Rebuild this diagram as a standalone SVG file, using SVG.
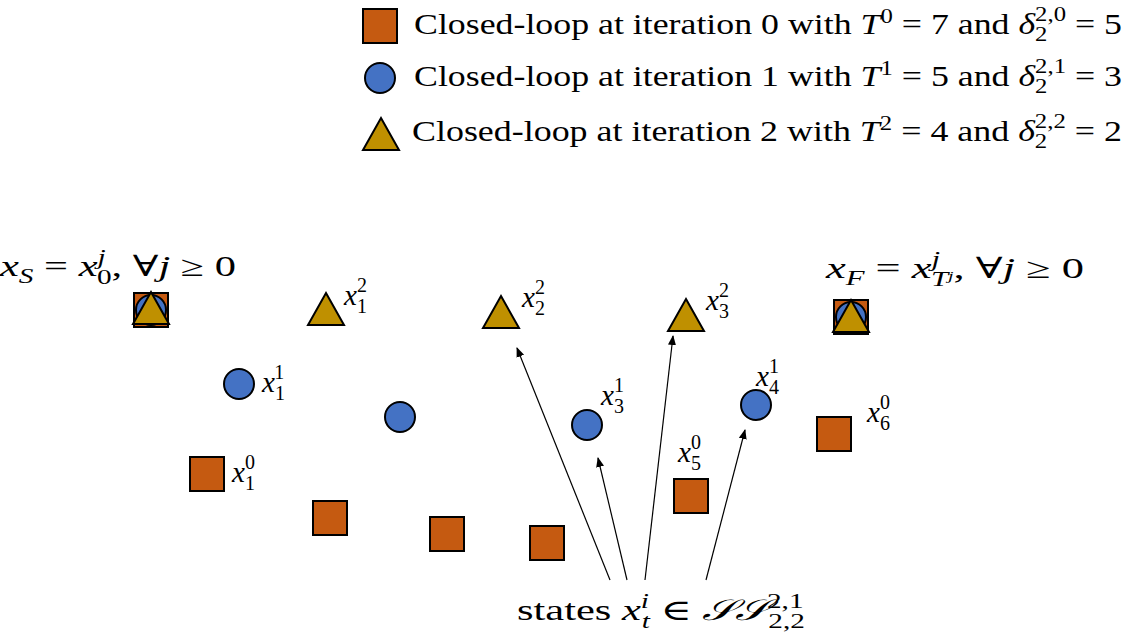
<svg xmlns="http://www.w3.org/2000/svg" width="1125" height="642" viewBox="0 0 1125 642">
<style>
text{font-family:"Liberation Serif","DejaVu Serif",serif;font-size:29px;fill:#000}
.i{font-style:italic}
.s{font-size:20px}
.sq{fill:#C55A11;stroke:#000;stroke-width:2}
.ci{fill:#4472C4;stroke:#000;stroke-width:2}
.tr{fill:#BF9000;stroke:#000;stroke-width:2}
.ar{stroke:#000;stroke-width:1.2;fill:none;marker-end:url(#h)}
</style>
<defs>
<marker id="h" markerWidth="10" markerHeight="10" refX="9" refY="5" orient="auto" markerUnits="userSpaceOnUse"><path d="M0,1 L10,5 L0,9 Z" fill="#000"/></marker>
<rect id="S" class="sq" x="-17" y="-17" width="34" height="34"/>
<circle id="C" class="ci" r="15"/>
<polygon id="T" class="tr" points="0,-18 18,14 -18,14"/>
</defs>
<g id="legend">
<use href="#S" x="380" y="26"/><text x="414" y="34" textLength="708" lengthAdjust="spacingAndGlyphs">Closed-loop at iteration 0 with <tspan class="i">T</tspan><tspan class="s" dy="-11">0</tspan><tspan dy="11"> = 7 and </tspan><tspan class="i">δ</tspan><tspan class="s" dy="7">2</tspan><tspan class="s" dx="-10" dy="-20">2,0</tspan><tspan dy="13"> = 5</tspan></text>
<use href="#C" x="380" y="78"/><text x="414" y="86" textLength="708" lengthAdjust="spacingAndGlyphs">Closed-loop at iteration 1 with <tspan class="i">T</tspan><tspan class="s" dy="-11">1</tspan><tspan dy="11"> = 5 and </tspan><tspan class="i">δ</tspan><tspan class="s" dy="7">2</tspan><tspan class="s" dx="-10" dy="-20">2,1</tspan><tspan dy="13"> = 3</tspan></text>
<use href="#T" x="381" y="136"/><text x="412" y="141" textLength="710" lengthAdjust="spacingAndGlyphs">Closed-loop at iteration 2 with <tspan class="i">T</tspan><tspan class="s" dy="-11">2</tspan><tspan dy="11"> = 4 and </tspan><tspan class="i">δ</tspan><tspan class="s" dy="7">2</tspan><tspan class="s" dx="-10" dy="-20">2,2</tspan><tspan dy="13"> = 2</tspan></text>
</g>
<g id="iter0">
<use href="#S" x="151" y="310"/><use href="#S" x="207" y="474"/><use href="#S" x="330" y="518"/><use href="#S" x="447" y="534"/><use href="#S" x="547" y="543"/><use href="#S" x="691" y="496"/><use href="#S" x="834" y="434"/><use href="#S" x="851" y="317"/>
</g>
<g id="iter1">
<use href="#C" x="151" y="310"/><use href="#C" x="239" y="384"/><use href="#C" x="400" y="417"/><use href="#C" x="587" y="425"/><use href="#C" x="756" y="405"/><use href="#C" x="851" y="317"/>
</g>
<g id="iter2">
<use href="#T" x="151" y="310"/><use href="#T" x="326" y="311"/><use href="#T" x="501" y="314"/><use href="#T" x="686" y="317"/><use href="#T" x="851" y="318"/>
</g>
<g id="connectors">
<line class="ar" x1="610" y1="580" x2="517" y2="348"/>
<line class="ar" x1="627" y1="580" x2="598" y2="458"/>
<line class="ar" x1="645" y1="580" x2="673" y2="336"/>
<line class="ar" x1="706" y1="580" x2="745" y2="430"/>
</g>
<g id="labels">
<text x="0" y="276" textLength="236" lengthAdjust="spacingAndGlyphs"><tspan class="i">x</tspan><tspan class="s i" dy="7">S</tspan><tspan dy="-7"> = </tspan><tspan class="i">x</tspan><tspan class="s i" dy="-12">j</tspan><tspan class="s" dx="-6" dy="20">0</tspan><tspan dy="-8">, ∀</tspan><tspan class="i">j</tspan> ≥ 0</text>
<text x="826" y="278" textLength="258" lengthAdjust="spacingAndGlyphs"><tspan class="i">x</tspan><tspan class="s i" dy="7">F</tspan><tspan dy="-7"> = </tspan><tspan class="i">x</tspan><tspan class="s i" dy="-12">j</tspan><tspan class="s i" dx="-6" dy="20">T</tspan><tspan class="i" style="font-size:13px" dy="-6">j</tspan><tspan dy="-2">, ∀</tspan><tspan class="i">j</tspan> ≥ 0</text>
<text x="344" y="305"><tspan class="i">x</tspan><tspan class="s" dy="8">1</tspan><tspan class="s" dx="-10" dy="-21">2</tspan></text>
<text x="522" y="307"><tspan class="i">x</tspan><tspan class="s" dy="8">2</tspan><tspan class="s" dx="-10" dy="-21">2</tspan></text>
<text x="706" y="310"><tspan class="i">x</tspan><tspan class="s" dy="8">3</tspan><tspan class="s" dx="-10" dy="-21">2</tspan></text>
<text x="262" y="392"><tspan class="i">x</tspan><tspan class="s" dy="8">1</tspan><tspan class="s" dx="-10" dy="-21">1</tspan></text>
<text x="601" y="405"><tspan class="i">x</tspan><tspan class="s" dy="8">3</tspan><tspan class="s" dx="-10" dy="-21">1</tspan></text>
<text x="756" y="386"><tspan class="i">x</tspan><tspan class="s" dy="8">4</tspan><tspan class="s" dx="-10" dy="-21">1</tspan></text>
<text x="867" y="422"><tspan class="i">x</tspan><tspan class="s" dy="8">6</tspan><tspan class="s" dx="-10" dy="-21">0</tspan></text>
<text x="678" y="462"><tspan class="i">x</tspan><tspan class="s" dy="8">5</tspan><tspan class="s" dx="-10" dy="-21">0</tspan></text>
<text x="232" y="482"><tspan class="i">x</tspan><tspan class="s" dy="8">1</tspan><tspan class="s" dx="-10" dy="-21">0</tspan></text>
<text x="517" y="620" textLength="288" lengthAdjust="spacingAndGlyphs">states <tspan class="i">x</tspan><tspan class="s i" dy="-12">i</tspan><tspan class="s i" dx="-5" dy="20">t</tspan><tspan dy="-8"> ∈ </tspan><tspan style="font-family:'DejaVu Serif',serif;font-style:italic">𝒮𝒮</tspan><tspan class="s" dy="-12">2,1</tspan><tspan class="s" dx="-24" dy="20">2,2</tspan></text>
</g>
</svg>
